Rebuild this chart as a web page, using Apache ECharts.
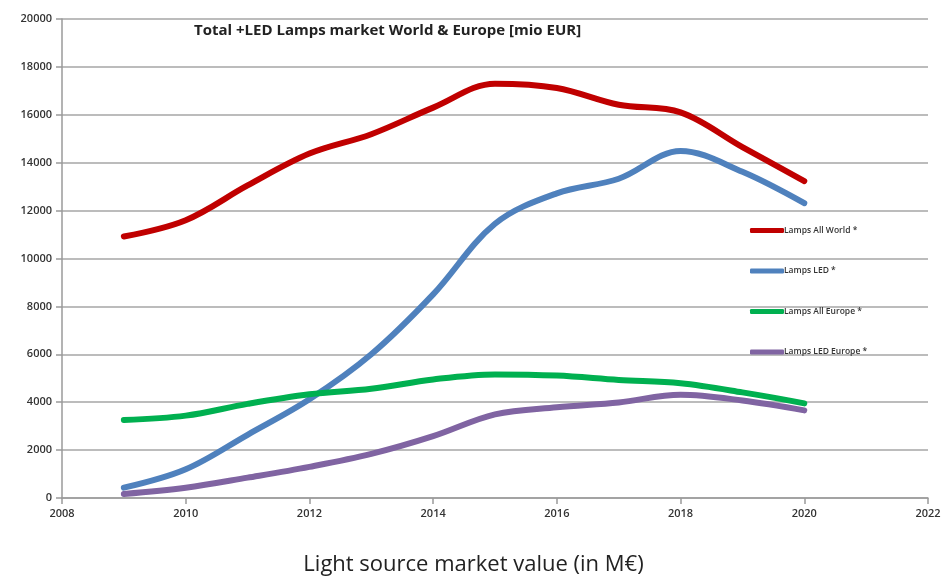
<!DOCTYPE html>
<html><head><meta charset="utf-8">
<script src="https://cdn.jsdelivr.net/npm/echarts@6/dist/echarts.min.js"></script>
<style>html,body{margin:0;padding:0;background:#fff}#c{width:947px;height:578px}</style>
</head><body><div id="c"></div>
<script>
const years = [2009,2010,2011,2012,2013,2014,2015,2016,2017,2018,2019,2020];
const seriesNames = ['Lamps All World *','Lamps LED *','Lamps All Europe *','Lamps LED Europe *'];
const lampsAllWorld = [10920,11600,13050,14380,15190,16300,17300,17120,16420,16100,14650,13230];
const lampsLED = [430,1200,2640,4120,6000,8500,11450,12720,13330,14490,13620,12310];
const lampsAllEurope = [3260,3440,3930,4330,4560,4950,5160,5110,4930,4790,4410,3950];
const lampsLEDEurope = [170,430,850,1300,1840,2580,3490,3790,3990,4310,4070,3660];
const xTicks = [2008,2010,2012,2014,2016,2018,2020,2022];
const yTicks = [0,2000,4000,6000,8000,10000,12000,14000,16000,18000,20000];
const titleText = 'Total +LED Lamps market World & Europe [mio EUR]';
const captionText = 'Light source market value (in M€)';
const colors = ['#c00000','#4f81bd','#00b050','#8064a2'];
const allValues = [lampsAllWorld, lampsLED, lampsAllEurope, lampsLEDEurope];

const chart = echarts.init(document.getElementById('c'), null, {renderer:'canvas'});
const axisFont = {fontFamily:'Open Sans', fontSize:11, fontWeight:600, color:'#333'};
chart.setOption({
  animation:false,
  backgroundColor:'#fff',
  title:[{
    text:titleText, left:189, top:18,
    textStyle:{fontFamily:'Open Sans', fontWeight:'bold', fontSize:15, color:'#222'}
  },{
    text:captionText, left:'center', top:549,
    textStyle:{fontFamily:'Open Sans', fontWeight:'normal', fontSize:22, color:'#222'}
  }],
  legend:{
    orient:'vertical', left:745, top:221, itemGap:31.5,
    icon:'roundRect', itemWidth:34, itemHeight:5,
    textStyle:{fontFamily:'Open Sans', fontSize:8.5, fontWeight:600, color:'#333', padding:[0,0,0,-5]},
    data:seriesNames
  },
  grid:{left:62, right:19, top:19, bottom:80},
  xAxis:{
    type:'value', min:xTicks[0], max:xTicks[xTicks.length-1], interval:2,
    axisLine:{show:true, lineStyle:{color:'#9a9a9a', width:1.5}},
    axisTick:{show:true, length:6, lineStyle:{color:'#9a9a9a', width:1.5}},
    splitLine:{show:false},
    axisLabel:Object.assign({margin:10, formatter:v=>String(v)}, axisFont)
  },
  yAxis:{
    type:'value', min:yTicks[0], max:yTicks[yTicks.length-1], interval:2000,
    axisLine:{show:true, lineStyle:{color:'#9a9a9a', width:1.5}},
    axisTick:{show:true, length:6, lineStyle:{color:'#9a9a9a', width:1.5}},
    splitLine:{show:true, lineStyle:{color:'#a6a6a6', width:1.5}},
    axisLabel:Object.assign({margin:10, formatter:v=>String(v)}, axisFont)
  },
  series: seriesNames.map((n,i)=>({
    name:n, type:'line', smooth:0.35, showSymbol:false, symbol:'none',
    data: years.map((y,k)=>[y, allValues[i][k]]),
    lineStyle:{color:colors[i], width:6, cap:'round', join:'round'},
    itemStyle:{color:colors[i]}
  }))
});
</script></body></html>
